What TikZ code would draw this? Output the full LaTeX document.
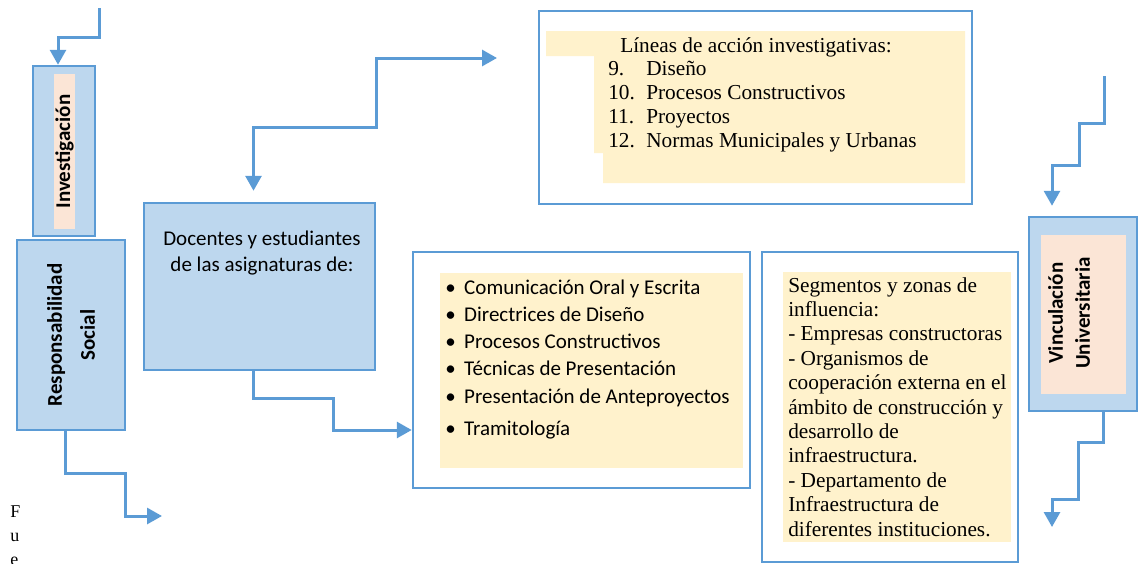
\documentclass[tikz,border=0pt]{standalone}
\usepackage{fontspec}
\setmainfont{Liberation Serif}
\setsansfont{Carlito}
\usetikzlibrary{arrows.meta, positioning}
\definecolor{cedge}{HTML}{5B9BD5}
\definecolor{cblue}{HTML}{BDD7EE}
\definecolor{cpeach}{HTML}{FBE5D6}
\definecolor{cyellow}{HTML}{FFF2CC}
\tikzset{
  every picture/.style={line width=2.5pt},
  box/.style={draw=cedge, fill=#1, inner sep=0pt},
  box/.default=cblue,
  pad/.style={fill=#1, draw=none, inner sep=0pt},
  pad/.default=cyellow,
  arrow/.style={->, >={Triangle[length=15pt, width=16pt]}, draw=cedge, line width=3pt},
  sans/.style={font=\sffamily\fontsize{21}{#1}\selectfont, inner sep=0pt, align=left},
  sans/.default=27.2,
  serif/.style={font=\rmfamily\fontsize{21.3}{#1}\selectfont, inner sep=0pt, align=left},
  serif/.default=24.4,
  head/.style={font=\sffamily\bfseries\fontsize{21}{#1}\selectfont, align=center, rotate=90, inner sep=0pt},
}

\begin{document}
\begin{tikzpicture}[x=1pt, y=-1pt]
  \useasboundingbox (0,0) rectangle (1142,563);
  % left column
  \node[box, minimum width=62pt, minimum height=170pt] (inv) at (64,151) {};
  \node[pad=cpeach, head=26, minimum width=155pt, minimum height=21pt] (invTxt) at (64.5,151.5) {Investigación};
  \node[box, minimum width=108pt, minimum height=190pt] (resp) at (71,335) {};
  \node[head=33] (respTxt) at (resp) {Responsabilidad\\Social};
  \node[serif=24, font=\rmfamily\fontsize{18}{24}\selectfont, anchor=base west] (fue) at (9,565) {F\\u\\e};
  % teachers
  \node[box, minimum width=231pt, minimum height=167pt] (doc) at (259.5,286.5) {};
  \node[sans=26, align=center, anchor=base] (docTxt) at (262,271) {Docentes y estudiantes\\de las asignaturas de:};
  % research lines
  \node[box=white, minimum width=433pt, minimum height=193pt] (lin) at (755.5,107.5) {};
  \fill[cyellow] (546,31) -- (965,31) -- (965,183) -- (603,183) -- (603,153) -- (594,153) -- (594,56) -- (546,56) -- cycle;
  \node[serif, anchor=base west] (linTitle) at (619,52) {Líneas de acción investigativas:};
  \node[serif=24, anchor=base west] (linList) at (607,147) {\makebox[38pt][l]{9.}Diseño\\
    \makebox[38pt][l]{10.}Procesos Constructivos\\
    \makebox[38pt][l]{11.}Proyectos\\
    \makebox[38pt][l]{12.}Normas Municipales y Urbanas};
  % subjects
  \node[box=white, minimum width=337pt, minimum height=236pt] (bul) at (581.5,370) {};
  \node[pad, minimum width=303pt, minimum height=195pt] (bulPad) at (591.5,370.5) {};
  \node[sans, anchor=base west] (bulList) at (444,435) {\makebox[19pt][l]{\textbullet}Comunicación Oral y Escrita\\
    \makebox[19pt][l]{\textbullet}Directrices de Diseño\\
    \makebox[19pt][l]{\textbullet}Procesos Constructivos\\
    \makebox[19pt][l]{\textbullet}Técnicas de Presentación\\
    \makebox[19pt][l]{\textbullet}Presentación de Anteproyectos\\[4.8pt]
    \makebox[19pt][l]{\textbullet}Tramitología};
  % segments
  \node[box=white, minimum width=256pt, minimum height=310pt] (seg) at (890,407) {};
  \node[pad, minimum width=228pt, minimum height=270pt] (segPad) at (897,407) {};
  \node[serif, anchor=base west] (segTxt) at (787,536) {Segmentos y zonas de\\influencia:\\- Empresas constructoras\\- Organismos de\\cooperación externa en el\\ámbito de construcción y\\desarrollo de\\infraestructura.\\- Departamento de\\Infraestructura de\\diferentes instituciones.};
  % outreach
  \node[box, minimum width=108pt, minimum height=194pt] (vin) at (1083,314) {};
  \node[pad=cpeach, minimum width=85pt, minimum height=159pt] (vinPad) at (1083.5,314.5) {};
  \node[head=27] (vinTxt) at (1069,313) {Vinculación\\Universitaria};

  % connectors
  \coordinate (invIn) at (99,8);
  \coordinate (respOut) at (162,516);
  \coordinate (linIn) at (497,58);
  \coordinate (vinIn) at (1104,76);
  \coordinate (vinOut) at (1052,527);
  \draw[arrow] (invIn) -- ++(0,29) -| ([xshift=-6pt]inv.north);
  \draw[arrow] ([xshift=-6pt]resp.south) |- (125,473) |- (respOut);
  \draw[arrow, <->, shorten >=11pt] (linIn) -| (376,127) -| ([xshift=-6pt]doc.north);
  \draw[arrow] ([xshift=-6pt]doc.south) |- (333,398) |- ([yshift=-60pt]bul.west);
  \draw[arrow, shorten >=10pt] (vinIn) |- (1079,123) |- (1052,165) -- ([xshift=-31pt]vin.north);
  \draw[arrow] ([xshift=20pt]vin.south) |- (1078,442) |- (1052,499) -- (vinOut);
\end{tikzpicture}
\end{document}
